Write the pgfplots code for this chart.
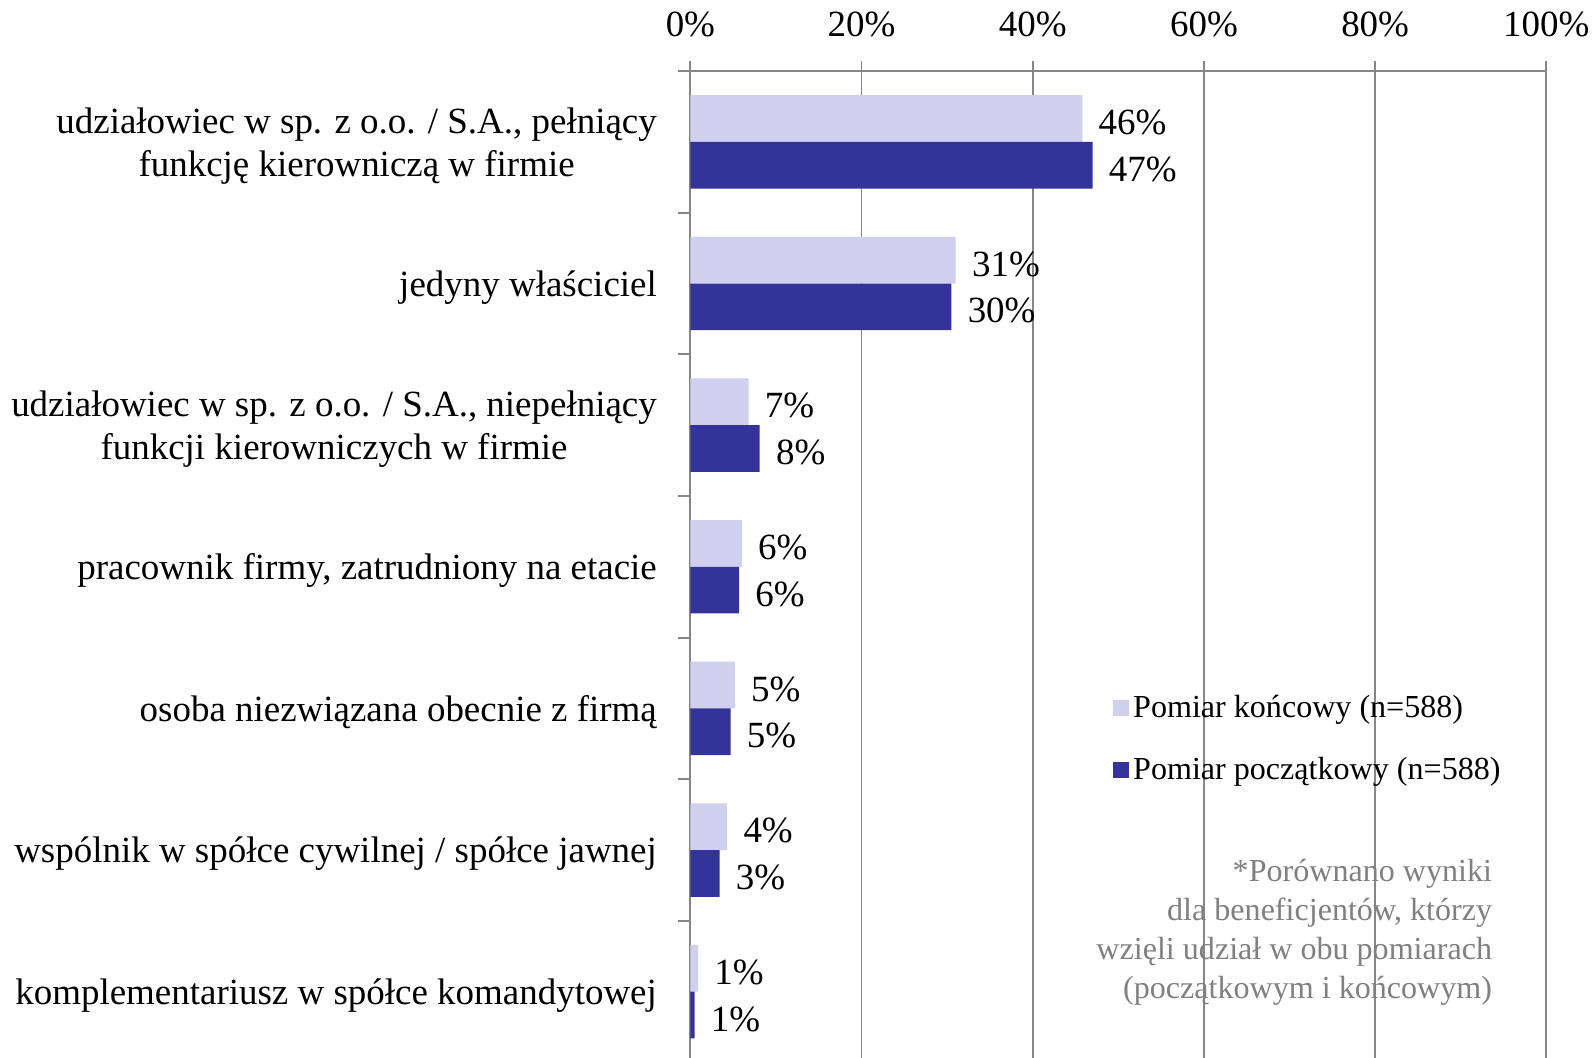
\documentclass[border=0pt]{standalone}
\usepackage{fontspec}
\setmainfont{Liberation Serif}
\usepackage{pgfplots}
\pgfplotsset{compat=1.18}

\definecolor{konc}{RGB}{208,208,238}
\definecolor{pocz}{RGB}{51,51,153}
\definecolor{gridgray}{RGB}{134,134,134}
\definecolor{notegray}{RGB}{128,128,128}

\begin{document}
\begin{tikzpicture}
\begin{axis}[
    name=ax,
    scale only axis,
    width=421.5pt,
    height=488.25pt,
    font=\fontsize{18.2}{21}\selectfont,
    xbar,
    bar width=23pt,
    xmin=0, xmax=100,
    ymin=-0.5, ymax=6.5,
    axis x line*=top,
    axis y line*=left,
    axis line style={gridgray, line width=0.9pt},
    xtick={0,20,...,100},
    xticklabel={\pgfmathprintnumber{\tick}\%},
    xticklabel style={yshift=8pt},
    /pgf/number format/assume math mode=true,
    xmajorgrids,
    grid style={gridgray, line width=0.9pt},
    tick align=outside,
    major tick length=5pt,
    minor tick length=6pt,
    tick style={gridgray, line width=0.9pt},
    ytick={0,...,6},
    yticklabels={
        {komplementariusz w spółce komandytowej},
        {wspólnik w spółce cywilnej / spółce jawnej},
        {osoba niezwiązana obecnie z firmą},
        {pracownik firmy, zatrudniony na etacie},
        {udziałowiec w sp. z o.o. / S.A., niepełniący\\funkcji kierowniczych w firmie},
        {jedyny właściciel},
        {udziałowiec w sp. z o.o. / S.A., pełniący\\funkcję kierowniczą w firmie}
    },
    yticklabel style={align=center, xshift=-8pt, yshift=-2pt},
    major y tick style={draw=none},
    minor ytick={-0.5,0.5,...,6.5},
    minor y tick style={draw=gridgray},
    point meta=explicit symbolic,
    nodes near coords,
    nodes near coords style={anchor=west, xshift=4.5pt, yshift=-2pt, font=\fontsize{18.2}{21}\selectfont},
    legend cell align=left,
    legend style={
        at={(0.486,0.379)},
        anchor=north west,
        draw=none, fill=none,
        row sep=14pt,
        nodes={inner sep=2pt},
        font=\fontsize{15.8}{19}\selectfont
    },
]

% Pomiar koncowy
\addplot[draw=none, fill=konc, bar shift=11.5pt,
    legend image code/.code={\fill[konc] (0pt,-4pt) rectangle (8pt,4pt);}]
coordinates {
(45.8,6) [46\%]
(31.0,5) [31\%]
(6.8,4) [7\%]
(6.0,3) [6\%]
(5.2,2) [5\%]
(4.3,1) [4\%]
(0.9,0) [1\%]
};
\addlegendentry{Pomiar końcowy (n=588)}

% Pomiar poczatkowy
\addplot[draw=none, fill=pocz, bar shift=-11.5pt,
    legend image code/.code={\fill[pocz] (0pt,-4pt) rectangle (8pt,4pt);}]
coordinates {
(47.0,6) [47\%]
(30.5,5) [30\%]
(8.1,4) [8\%]
(5.7,3) [6\%]
(4.7,2) [5\%]
(3.4,1) [3\%]
(0.5,0) [1\%]
};
\addlegendentry{Pomiar początkowy (n=588)}

\node[anchor=east, align=right, text=notegray, font=\fontsize{15.8}{19.2}\selectfont]
    at (axis cs:94.5,0.42)
    {*Porównano wyniki\\dla beneficjentów, którzy\\wzięli udział w obu pomiarach\\(początkowym i końcowym)};
\end{axis}
\pgfresetboundingbox
\path[use as bounding box] ([xshift=-340pt,yshift=2.25pt]ax.south west)
    rectangle ([xshift=22.5pt,yshift=35pt]ax.north east);
\end{tikzpicture}
\end{document}
